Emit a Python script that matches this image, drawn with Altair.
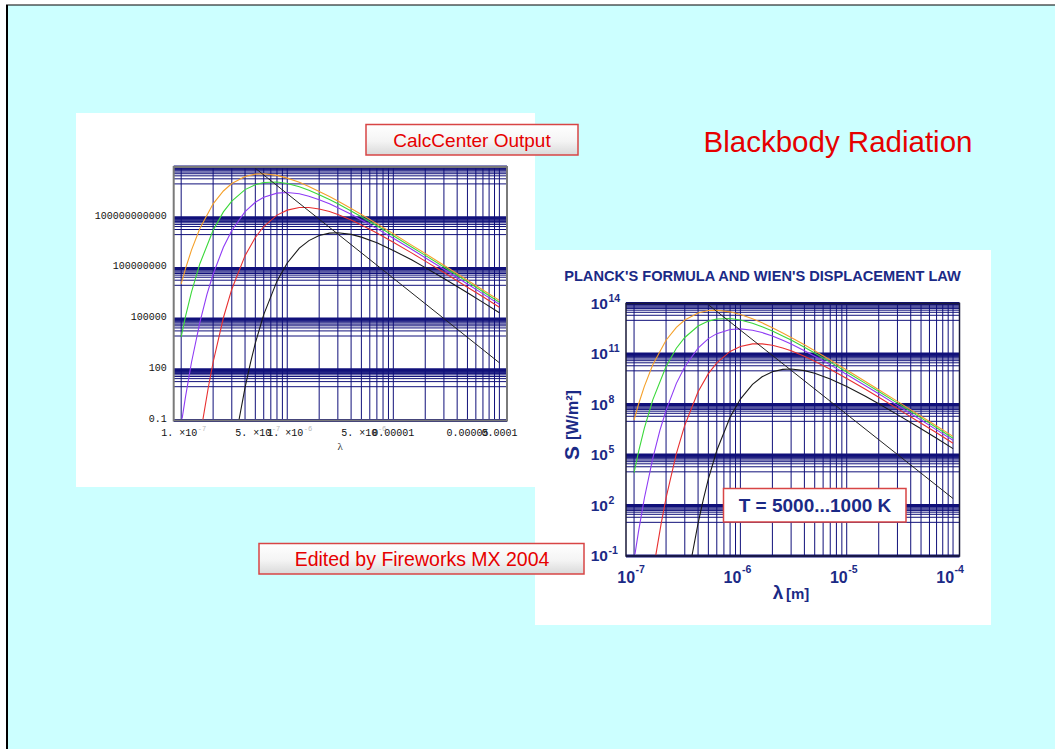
import altair as alt
import pandas as pd

# ---------------------------------------------------------------------------
# Spectral emissive power S(lambda) [W/m^2 per m] for T = 5000 ... 1000 K
# ---------------------------------------------------------------------------
TEMPS = ["5000 K", "4000 K", "3000 K", "2000 K", "1000 K"]
CURVE_COLORS = ["#f5a02a", "#3ad83a", "#8f3cf5", "#e83030", "#1a1a1a"]

LAM_5000 = [1.0e-7, 1.1e-7, 1.25e-7, 1.5e-7, 2.0e-7, 2.5e-7, 3.0e-7, 4.0e-7, 5.0e-7,
            6.0e-7, 8.0e-7, 1.0e-6, 1.3e-6, 1.6e-6, 2.0e-6, 2.5e-6, 3.0e-6, 4.0e-6,
            5.0e-6, 7.0e-6, 1.0e-5, 1.5e-5, 2.0e-5, 3.0e-5, 5.0e-5, 7.0e-5, 1.0e-4]
S_5000 = [1.2e7, 1.0e8, 1.2e9, 2.3e10, 6.6e11, 3.8e12, 1.05e13, 2.75e13, 3.8e13,
          4.0e13, 3.2e13, 2.2e13, 1.24e13, 7.1e12, 3.6e12, 1.77e12, 9.6e11, 3.5e11,
          1.54e11, 4.4e10, 1.12e10, 2.3e9, 7.6e8, 1.53e8, 2.0e7, 5.3e6, 1.28e6]

LAM_4000 = LAM_5000
S_4000 = [8.9e3, 1.5e5, 3.9e6, 1.9e8, 1.8e10, 2.2e11, 9.6e11, 4.6e12, 9.0e12,
          1.2e13, 1.29e13, 1.05e13, 6.8e12, 4.2e12, 2.3e12, 1.19e12, 6.7e11, 2.5e11,
          1.14e11, 3.3e10, 8.6e9, 1.8e9, 5.9e8, 1.21e8, 1.6e7, 4.2e6, 1.0e6]

LAM_3000 = [1.02e-7, 1.1e-7, 1.25e-7, 1.5e-7, 1.75e-7, 2.0e-7, 2.5e-7, 3.0e-7, 4.0e-7,
            5.0e-7, 6.0e-7, 8.0e-7, 1.0e-6, 1.3e-6, 1.6e-6, 2.0e-6, 2.5e-6, 3.0e-6,
            4.0e-6, 5.0e-6, 7.0e-6, 1.0e-5, 1.5e-5, 2.0e-5, 3.0e-5, 5.0e-5, 7.0e-5, 1.0e-4]
S_3000 = [0.13, 2.7, 270, 6.4e4, 2.9e6, 4.5e7, 1.8e9, 1.76e10, 2.27e11,
          8.2e11, 1.62e12, 2.85e12, 3.1e12, 2.6e12, 1.87e12, 1.17e12, 6.6e11, 3.9e11,
          1.58e11, 7.4e10, 2.26e10, 6.1e9, 1.31e9, 4.3e8, 8.9e7, 1.19e7, 3.1e6, 7.6e5]

LAM_2000 = [1.6e-7, 1.8e-7, 2.0e-7, 2.5e-7, 3.0e-7, 4.0e-7, 5.0e-7, 6.0e-7, 8.0e-7,
            1.0e-6, 1.3e-6, 1.6e-6, 2.0e-6, 2.5e-6, 3.0e-6, 4.0e-6, 5.0e-6, 7.0e-6,
            1.0e-5, 1.5e-5, 2.0e-5, 3.0e-5, 5.0e-5, 7.0e-5, 1.0e-4]
S_2000 = [0.11, 8.7, 280, 1.2e5, 5.9e6, 5.7e8, 6.8e9, 3.0e10, 1.42e11,
          2.8e11, 4.0e11, 4.0e11, 3.3e11, 2.3e11, 1.54e11, 7.3e10, 3.7e10, 1.24e10,
          3.55e9, 8.0e8, 2.7e8, 5.7e7, 7.7e6, 2.1e6, 5.0e5]

LAM_1000 = [3.5e-7, 4.0e-7, 4.5e-7, 5.0e-7, 6.0e-7, 8.0e-7, 1.0e-6, 1.3e-6, 1.6e-6,
            2.0e-6, 2.5e-6, 3.0e-6, 4.0e-6, 5.0e-6, 7.0e-6, 1.0e-5, 1.5e-5, 2.0e-5,
            3.0e-5, 5.0e-5, 7.0e-5, 1.0e-4]
S_1000 = [0.1, 8.7, 260, 3.8e3, 1.85e5, 1.76e7, 2.1e8, 1.57e9, 4.4e9,
          8.8e9, 1.22e10, 1.28e10, 1.03e10, 7.1e9, 3.3e9, 1.16e9, 3.1e8, 1.11e8,
          2.5e7, 3.6e6, 9.8e5, 2.4e5]

# Wien's displacement law: locus of the maxima
WIEN_LAM = [5.0e-7, 1.0e-4]
WIEN_S = [8.4e13, 2.6e2]

# Grid lines (log-log)
GRID_X = [k * 10.0 ** n for n in (-7, -6, -5) for k in range(1, 10)] + [1.0e-4]
Y_DECADES = [-1, 2, 5, 8, 11, 14]
GRID_Y_MAJOR = [10.0 ** n for n in Y_DECADES]
GRID_Y_MINOR = [k * 10.0 ** (n - 1) for n in Y_DECADES for k in range(1, 10)
                if k * 10.0 ** (n - 1) >= 0.1]

# Tick labels, CalcCenter style
L_Y_TICKS = [0.1, 100, 1e5, 1e8, 1e11]
L_Y_TEXT = ["0.1", "100", "100000", "100000000", "100000000000"]
L_X_SCI = [1e-7, 5e-7, 1e-6, 5e-6]
L_X_SCI_TEXT = ["1. ×10", "5. ×10", "1. ×10", "5. ×10"]
L_X_SCI_EXP = ["-7", "-7", "-6", "-6"]
L_X_DEC = [1e-5, 5e-5, 1e-4]
L_X_DEC_TEXT = ["0.00001", "0.00005", "0.0001"]

# Tick labels, edited style
R_Y_TICKS = [0.1, 1e2, 1e5, 1e8, 1e11, 1e14]
R_Y_EXP = ["-1", "2", "5", "8", "11", "14"]
R_X_TICKS = [1e-7, 1e-6, 1e-5, 1e-4]
R_X_EXP = ["-7", "-6", "-5", "-4"]

# ---------------------------------------------------------------------------
SANS = "Liberation Sans"
MONO = "Liberation Mono"
GRID = "#10107a"
NAVY_TXT = "#1b2a86"
RED_TXT = "#e60000"
BOX_RED = "#d84545"
CYAN = "#ccffff"

Y_LO, Y_HI = 0.1, 1e14

curve_rows = []
for t, lams, vals in zip(TEMPS, [LAM_5000, LAM_4000, LAM_3000, LAM_2000, LAM_1000],
                         [S_5000, S_4000, S_3000, S_2000, S_1000]):
    curve_rows += [{"lam": l, "S": s, "T": t} for l, s in zip(lams, vals)]
curves = pd.DataFrame(curve_rows)
wien = pd.DataFrame({"lam": WIEN_LAM, "S": WIEN_S})
one = pd.DataFrame({"k": [0]})


def log_scale(domain, rng):
    return alt.Scale(type="log", domain=domain, range=rng, nice=False)


def plot_panel(xs, ys, x_lo, x_hi, frame_color, frame_width, extra):
    vgrid = alt.Chart(pd.DataFrame({"lam": GRID_X})).mark_rule(
        color=GRID, strokeWidth=1).encode(
        x=alt.X("lam:Q", scale=xs, axis=None),
        y=alt.YDatum(Y_LO, scale=ys, axis=None, type="quantitative"),
        y2=alt.Y2Datum(Y_HI))
    hminor = alt.Chart(pd.DataFrame({"S": GRID_Y_MINOR})).mark_rule(
        color=GRID, strokeWidth=1).encode(
        x=alt.XDatum(x_lo, scale=xs, axis=None, type="quantitative"),
        x2=alt.X2Datum(x_hi),
        y=alt.Y("S:Q", scale=ys, axis=None))
    hmajor = alt.Chart(pd.DataFrame({"S": GRID_Y_MAJOR})).mark_rule(
        color=GRID, strokeWidth=3).encode(
        x=alt.XDatum(x_lo, scale=xs, axis=None, type="quantitative"),
        x2=alt.X2Datum(x_hi),
        y=alt.Y("S:Q", scale=ys, axis=None))
    lines = alt.Chart(curves).mark_line(strokeWidth=1.1).encode(
        x=alt.X("lam:Q", scale=xs, axis=None),
        y=alt.Y("S:Q", scale=ys, axis=None),
        color=alt.Color("T:N", scale=alt.Scale(domain=TEMPS, range=CURVE_COLORS),
                        legend=None))
    wline = alt.Chart(wien).mark_line(color="#222222", strokeWidth=1).encode(
        x=alt.X("lam:Q", scale=xs, axis=None),
        y=alt.Y("S:Q", scale=ys, axis=None))
    frame = alt.Chart(one).mark_rect(filled=False, stroke=frame_color,
                                     strokeWidth=frame_width).encode(
        x=alt.XDatum(x_lo, scale=xs, axis=None, type="quantitative"),
        x2=alt.X2Datum(x_hi),
        y=alt.YDatum(Y_LO, scale=ys, axis=None, type="quantitative"),
        y2=alt.Y2Datum(Y_HI))
    return alt.layer(vgrid, hminor, hmajor, lines, wline, frame, *extra)


# ---- left plot (CalcCenter output) ----
LX_LO, LX_HI = 8.5e-8, 1.18e-4
LXS = log_scale([LX_LO, LX_HI], [173.7, 507])
LYS = log_scale([Y_LO, Y_HI], [420.5, 167])

l_ylab = alt.Chart(pd.DataFrame({"S": L_Y_TICKS, "t": L_Y_TEXT})).mark_text(
    align="right", baseline="middle", dx=-7, dy=-2, font=MONO, fontSize=10,
    color="#111111").encode(
    x=alt.XDatum(LX_LO, scale=LXS, axis=None, type="quantitative"),
    y=alt.Y("S:Q", scale=LYS, axis=None), text="t:N")
l_xsci = alt.Chart(pd.DataFrame({"lam": L_X_SCI, "t": L_X_SCI_TEXT, "e": L_X_SCI_EXP}))
l_xlab1 = l_xsci.mark_text(align="right", baseline="middle", dx=16, dy=12, font=MONO,
                           fontSize=10, color="#111111").encode(
    x=alt.X("lam:Q", scale=LXS, axis=None),
    y=alt.YDatum(Y_LO, scale=LYS, axis=None, type="quantitative"), text="t:N")
l_xlab2 = l_xsci.mark_text(align="left", baseline="middle", dx=16.5, dy=8, font=MONO,
                           fontSize=7, color="#b8b8b8").encode(
    x=alt.X("lam:Q", scale=LXS, axis=None),
    y=alt.YDatum(Y_LO, scale=LYS, axis=None, type="quantitative"), text="e:N")
l_xlab3 = alt.Chart(pd.DataFrame({"lam": L_X_DEC, "t": L_X_DEC_TEXT})).mark_text(
    align="center", baseline="middle", dy=12, font=MONO, fontSize=10,
    color="#111111").encode(
    x=alt.X("lam:Q", scale=LXS, axis=None),
    y=alt.YDatum(Y_LO, scale=LYS, axis=None, type="quantitative"), text="t:N")
l_title = alt.Chart(one).mark_text(text="λ", baseline="middle", dy=26,
                                   font="Liberation Serif", fontSize=11,
                                   color="#333333").encode(
    x=alt.XDatum(3.16e-6, scale=LXS, axis=None, type="quantitative"),
    y=alt.YDatum(Y_LO, scale=LYS, axis=None, type="quantitative"))

left_panel = plot_panel(LXS, LYS, LX_LO, LX_HI, "#7a7a7a", 2,
                        [l_ylab, l_xlab1, l_xlab2, l_xlab3, l_title])

# ---- right plot (edited) ----
RX_LO, RX_HI = 8.4e-8, 1.15e-4
RXS = log_scale([RX_LO, RX_HI], [626, 959.5])
RYS = log_scale([Y_LO, Y_HI], [556, 303.5])

r_y = alt.Chart(pd.DataFrame({"S": R_Y_TICKS, "e": R_Y_EXP})).encode(
    x=alt.XDatum(RX_LO, scale=RXS, axis=None, type="quantitative"),
    y=alt.Y("S:Q", scale=RYS, axis=None))
r_y10 = r_y.mark_text(text="10", align="right", baseline="middle", dx=-18,
                      font=SANS, fontSize=15.5, fontWeight="bold", color=NAVY_TXT)
r_yexp = r_y.mark_text(align="left", baseline="middle", dx=-17.5, dy=-5, font=SANS,
                       fontSize=10.5, fontWeight="bold", color=NAVY_TXT).encode(text="e:N")
r_x = alt.Chart(pd.DataFrame({"lam": R_X_TICKS, "e": R_X_EXP})).encode(
    x=alt.X("lam:Q", scale=RXS, axis=None),
    y=alt.YDatum(Y_LO, scale=RYS, axis=None, type="quantitative"))
r_x10 = r_x.mark_text(text="10", align="right", baseline="middle", dx=1, dy=22,
                      font=SANS, fontSize=16, fontWeight="bold", color=NAVY_TXT)
r_xexp = r_x.mark_text(align="left", baseline="middle", dx=1.5, dy=14, font=SANS,
                       fontSize=10.5, fontWeight="bold", color=NAVY_TXT).encode(text="e:N")

right_panel = plot_panel(RXS, RYS, RX_LO, RX_HI, "#1a1a3a", 1.5,
                         [r_y10, r_yexp, r_x10, r_xexp])


# ---- slide background, panels, captions ----
def box(x0, x1, y0, y1, **kw):
    return alt.Chart(one).mark_rect(**kw).encode(
        x=alt.value(x0), x2=alt.value(x1), y=alt.value(y0), y2=alt.value(y1))


def label(text, x, y, **kw):
    return alt.Chart(one).mark_text(text=text, baseline="middle", **kw).encode(
        x=alt.value(x), y=alt.value(y))


button_fill = alt.Gradient(
    gradient="linear", x1=0, x2=0, y1=0, y2=1,
    stops=[alt.GradientStop(color="#ffffff", offset=0),
           alt.GradientStop(color="#f4f4f4", offset=0.55),
           alt.GradientStop(color="#d9d9d9", offset=1)])

slide = box(7, 1070, 5, 760, fill=CYAN)
slide_left = alt.Chart(one).mark_rule(color="#000000", strokeWidth=2).encode(
    x=alt.value(7), y=alt.value(5), y2=alt.value(760))
slide_top = alt.Chart(one).mark_rule(color="#000000", strokeWidth=1).encode(
    x=alt.value(6), x2=alt.value(1070), y=alt.value(5))
left_bg = box(76, 535, 113, 487, fill="#ffffff")
right_bg = box(535, 991, 250, 625, fill="#ffffff")

calc_box = box(366, 578, 124.5, 155, fill=button_fill, stroke=BOX_RED, strokeWidth=1.5)
calc_text = label("CalcCenter Output", 472, 140.5, align="center", font=SANS,
                  fontSize=19, color=RED_TXT)
edited_box = box(259, 584, 543.5, 574, fill=button_fill, stroke=BOX_RED, strokeWidth=1.5)
edited_text = label("Edited by Fireworks MX 2004", 422, 559.5, align="center", font=SANS,
                    fontSize=19.5, color=RED_TXT)
title_text = label("Blackbody Radiation", 838, 143, align="center", font=SANS,
                   fontSize=29.5, color=RED_TXT)
planck_text = label("PLANCK'S FORMULA AND WIEN'S DISPLACEMENT LAW", 762.5, 277,
                    align="center", font=SANS, fontSize=14.6, fontWeight="bold",
                    color=NAVY_TXT)
t_box = box(723.5, 906, 488.5, 522, fill="#ffffff", stroke=BOX_RED, strokeWidth=1.5)
t_text = label("T = 5000...1000 K", 815, 506, align="center", font=SANS, fontSize=19,
               fontWeight="bold", color=NAVY_TXT)
y_title_s = label("S", 573, 453, align="center", angle=270, font=SANS, fontSize=21,
                  fontWeight="bold", color=NAVY_TXT)
y_title_u = label("[W/m²]", 573, 415, align="center", angle=270, font=SANS,
                  fontSize=16, fontWeight="bold", color=NAVY_TXT)
x_title_l = label("λ", 778, 593, align="center", font=SANS, fontSize=19,
                  fontWeight="bold", color=NAVY_TXT)
x_title_u = label("[m]", 786, 594, align="left", font=SANS, fontSize=15,
                  fontWeight="bold", color=NAVY_TXT)

chart = alt.layer(
    slide, slide_left, slide_top, left_bg, right_bg,
    left_panel, calc_box, calc_text, title_text,
    right_panel, planck_text, t_box, t_text,
    y_title_s, y_title_u, x_title_l, x_title_u,
    edited_box, edited_text,
).resolve_scale(
    x="independent", y="independent"
).properties(
    width=1055, height=749, padding=0, background="#ffffff",
    autosize=alt.AutoSizeParams(type="none"),
).configure_view(strokeWidth=0)

chart.save("out.html", embed_options={"renderer": "svg", "actions": False})
